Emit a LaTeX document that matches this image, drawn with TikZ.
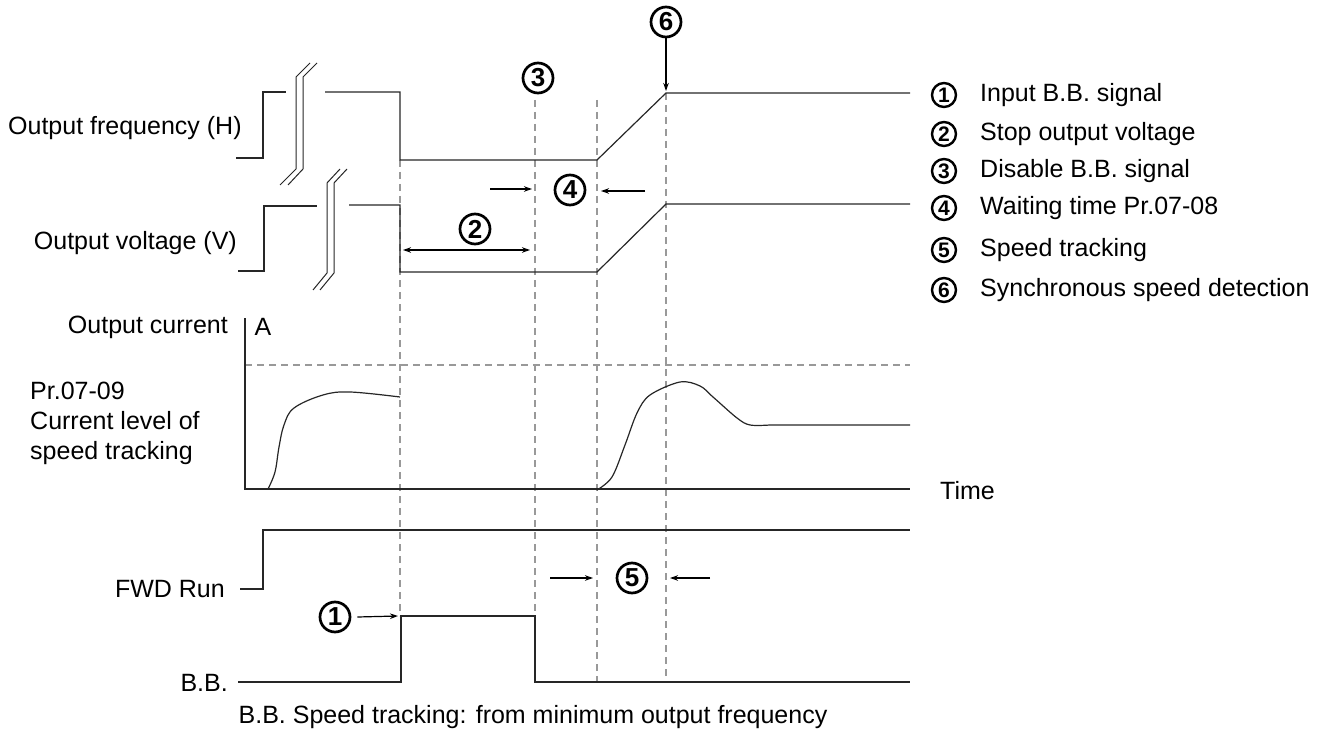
\documentclass[tikz,border=0pt]{standalone}
\usepackage{fontspec}
\setmainfont{Liberation Sans}
\usetikzlibrary{arrows.meta}
\begin{document}
\begin{tikzpicture}[x=1pt,y=-1pt,
  sig/.style={line width=1.2pt, draw=black!85},
  brk/.style={line width=1pt, draw=black!85},
  guide/.style={line width=1.4pt, draw=black!40, dash pattern=on 7pt off 5pt},
  lbl/.style={font=\fontsize{25}{30}\selectfont, inner sep=0pt, text=black},
  cnum/.style={circle, draw=black, line width=2.7pt, minimum size=30pt, inner sep=0pt, font=\fontsize{26}{26}\selectfont\bfseries},
  lnum/.style={cnum, minimum size=24pt, line width=2.4pt, font=\fontsize{21}{21}\selectfont\bfseries},
  arr/.style={line width=1.2pt, -{Stealth[length=8pt,width=5.5pt]}},
  darr/.style={line width=1.2pt, {Stealth[length=8pt,width=5.5pt]}-{Stealth[length=8pt,width=5.5pt]}}
]
\useasboundingbox (0,0) rectangle (1331,738);

% guides
\draw[guide] (400,160) -- (400,616);
\draw[guide] (535,100) -- (535,616);
\draw[guide] (597,100) -- (597,682);
\draw[guide] (666,93) -- (666,682);

% frequency
\draw[sig] (236,158) -- (263,158) -- (263,92) -- (286,92);
\draw[sig] (325,92) -- (400,92) -- (400,160) -- (597,160) -- (666,93) -- (910,93);
\draw[brk] (280,185) -- (296,169) -- (296,77) -- (310,63);
\draw[brk] (288,185) -- (303,169) -- (303,77) -- (317,63);

% voltage
\draw[sig] (238,271) -- (264,271) -- (264,206) -- (317,206);
\draw[sig] (349,205) -- (400,205) -- (400,272) -- (597,272) -- (666,204) -- (910,204);
\draw[brk] (313,290) -- (327,273) -- (327,183) -- (340,169);
\draw[brk] (320,290) -- (334,273) -- (334,183) -- (347,169);

% current
\draw[guide] (245,365) -- (910,365);
\draw[sig] (245,318) -- (245,489) -- (910,489);
\draw[sig] plot[smooth, tension=0.6] coordinates {(268,489) (275,472) (279,447) (284,425) (294,408) (323,395) (350,392) (400,397)};
\draw[sig] plot[smooth, tension=0.55] coordinates {(597,490) (612,477) (625,445) (637,413) (650,395) (680,382) (700,386) (713,397) (737,418) (750,425) (770,425)} -- (910,425);

% FWD / BB
\draw[sig] (240,589) -- (263,589) -- (263,530) -- (910,530);
\draw[sig] (238,682) -- (401,682) -- (401,616) -- (535,616) -- (535,682) -- (910,682);

% labels
\node[lbl, anchor=west] (lf) at (8,128) {Output frequency (H)};
\node[lbl, anchor=east] (lv) at (237,243) {Output voltage (V)};
\node[lbl, anchor=east] (lc) at (228,327) {Output current};
\node[lbl] (la) at (263,327) {A};
\node[lbl, anchor=west, align=left] (lp) at (30,423) {Pr.07-09\\Current level of\\speed tracking};
\node[lbl, anchor=west] (lt) at (940,491) {Time};
\node[lbl, anchor=east] (lfwd) at (225,589) {FWD Run};
\node[lbl, anchor=east] (lbb) at (228,683) {B.B.};
\node[lbl] (cap) at (533,717) {B.B. Speed tracking: from minimum output frequency};

% circled numbers in diagram
\node[cnum] (n3) at (538,78) {3};
\node[cnum] (n6) at (666,22) {6};
\coordinate (n6e) at (666,91);
\draw[arr] (n6) -- (n6e);
\node[cnum] (n4) at (570,190) {4};
\coordinate (a4s) at (490,189); \coordinate (a4e) at (532,189);
\coordinate (b4s) at (645,191); \coordinate (b4e) at (601,191);
\draw[arr] (a4s) -- (a4e);
\draw[arr] (b4s) -- (b4e);
\node[cnum] (n2) at (475,229) {2};
\coordinate (d2s) at (403,250); \coordinate (d2e) at (530,250);
\draw[darr] (d2s) -- (d2e);
\node[cnum] (n1) at (335,617) {1};
\coordinate (a1e) at (398,616);
\draw[arr] ([xshift=6pt]n1.east) -- (a1e);
\node[cnum] (n5) at (632,578) {5};
\coordinate (a5s) at (550,578); \coordinate (a5e) at (593,578);
\coordinate (b5s) at (710,578); \coordinate (b5e) at (670,578);
\draw[arr] (a5s) -- (a5e);
\draw[arr] (b5s) -- (b5e);

% legend
\node[lnum] (l1) at (944,95) {1};
\node[lnum] (l2) at (944,134) {2};
\node[lnum] (l3) at (944,171) {3};
\node[lnum] (l4) at (944,208) {4};
\node[lnum] (l5) at (944,250) {5};
\node[lnum] (l6) at (944,290) {6};
\node[lbl, anchor=west] (t1) at (980,95) {Input B.B. signal};
\node[lbl, anchor=west] (t2) at (980,134) {Stop output voltage};
\node[lbl, anchor=west] (t3) at (980,171) {Disable B.B. signal};
\node[lbl, anchor=west] (t4) at (980,208) {Waiting time Pr.07-08};
\node[lbl, anchor=west] (t5) at (980,250) {Speed tracking};
\node[lbl, anchor=west] (t6) at (980,290) {Synchronous speed detection};
\end{tikzpicture}
\end{document}
